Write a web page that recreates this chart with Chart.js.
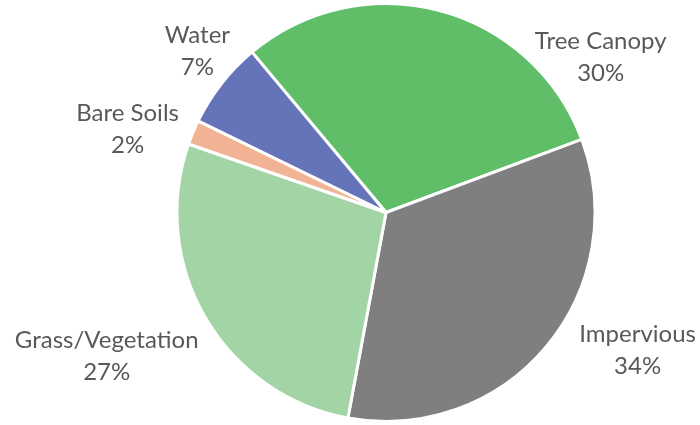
<!DOCTYPE html>
<html>
<head>
<meta charset="utf-8">
<script src="https://cdn.jsdelivr.net/npm/chart.js@4"></script>
<style>
  html, body { margin: 0; padding: 0; background: #fff; }
  #wrap { width: 700px; height: 425px; position: relative; }
</style>
</head>
<body>
<div id="wrap"><canvas id="pie"></canvas></div>
<script>
const categories = ['Tree Canopy', 'Impervious', 'Grass/Vegetation', 'Bare Soils', 'Water'];
const shares = [30.4, 33.6, 27.4, 1.9, 6.7];
const sliceColors = ['#60bd68', '#7f7f7f', '#a2d4a6', '#f1b393', '#6573b9'];

// label placement around the pie: angle from 12 o'clock (deg), distance as a multiple of radius
const labelSpots = [
  { angle: 54, dist: 1.27 },
  { angle: 118.5, dist: 1.37 },
  { angle: 243, dist: 1.50 },
  { angle: 288, dist: 1.30 },
  { angle: 310.7, dist: 1.19 }
];

const outsideLabels = {
  id: 'outsideLabels',
  afterDatasetsDraw(chart) {
    const { ctx } = chart;
    const meta = chart.getDatasetMeta(0);
    const total = shares.reduce((a, b) => a + b, 0);
    ctx.save();
    ctx.fillStyle = '#595959';
    ctx.font = '24px Lato, "Open Sans", sans-serif';
    ctx.textAlign = 'center';
    ctx.textBaseline = 'middle';
    meta.data.forEach((arc, i) => {
      const spot = labelSpots[i];
      const a = (spot.angle - 90) * Math.PI / 180;
      const r = arc.outerRadius * spot.dist;
      const x = arc.x + Math.cos(a) * r;
      const y = arc.y + Math.sin(a) * r;
      ctx.fillText(categories[i], x, y - 15);
      ctx.fillText(Math.round(shares[i] / total * 100) + '%', x, y + 17);
    });
    ctx.restore();
  }
};

new Chart(document.getElementById('pie'), {
  type: 'pie',
  data: {
    labels: categories,
    datasets: [{
      data: shares,
      backgroundColor: sliceColors,
      borderColor: '#ffffff',
      borderWidth: 3
    }]
  },
  options: {
    responsive: true,
    maintainAspectRatio: false,
    animation: false,
    rotation: -39.9,
    layout: { padding: { left: 72, right: 0, top: 2, bottom: 2 } },
    plugins: {
      legend: { display: false },
      tooltip: { enabled: false }
    }
  },
  plugins: [outsideLabels]
});
</script>
</body>
</html>
